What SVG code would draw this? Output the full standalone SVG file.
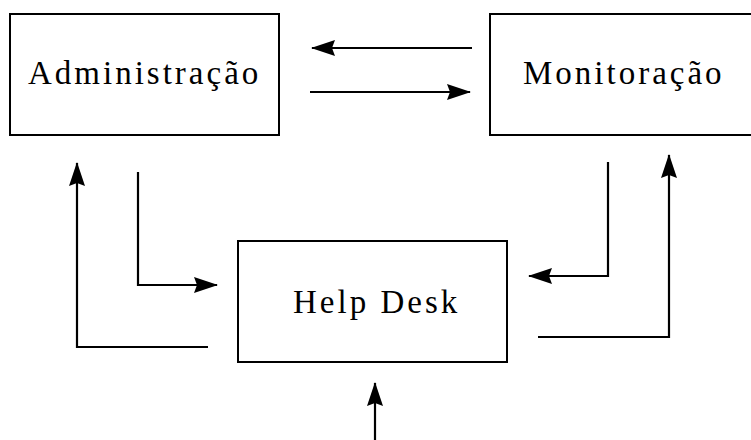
<svg xmlns="http://www.w3.org/2000/svg" width="751" height="440" viewBox="0 0 751 440">
  <defs>
    <marker id="head" viewBox="0 0 24 16" refX="23" refY="8" markerWidth="24" markerHeight="16" markerUnits="userSpaceOnUse" orient="auto">
      <path d="M0,0 L24,8 L0,16 L3,8 Z" fill="#000"/>
    </marker>
  </defs>
  <style>
    .box { fill: #fff; stroke: #000; stroke-width: 2; }
    .label { font-family: "Liberation Serif", "Times New Roman", serif; font-size: 33px; fill: #000; letter-spacing: 3px; }
    .conn { fill: none; stroke: #000; stroke-width: 2.2; }
    .arrow { marker-end: url(#head); }
  </style>
  <rect width="751" height="440" fill="#fff"/>

  <g id="administracao">
    <rect class="box" x="10" y="14" width="269" height="121"/>
    <text class="label" x="28" y="84">Administração</text>
  </g>

  <g id="monitoracao">
    <path class="box" d="M752,14 H490 V135 H752"/>
    <text class="label" x="523" y="84">Monitoração</text>
  </g>

  <g id="help-desk">
    <rect class="box" x="238" y="241" width="269" height="121"/>
    <text class="label" x="293" y="313">Help Desk</text>
  </g>

  <g id="connectors">
    <!-- between Administração and Monitoração -->
    <path class="conn arrow" d="M472,48 H312"/>
    <path class="conn arrow" d="M310,92 H470"/>
    <!-- Administração side -->
    <path class="conn arrow" d="M208,347 H77 V163"/>
    <path class="conn arrow" d="M138,172 V285 H217"/>
    <!-- Monitoração side -->
    <path class="conn arrow" d="M608,162 V276 H529"/>
    <path class="conn arrow" d="M538,337 H669 V155"/>
    <!-- input from below -->
    <path class="conn arrow" d="M375,440 V383"/>
  </g>
</svg>
